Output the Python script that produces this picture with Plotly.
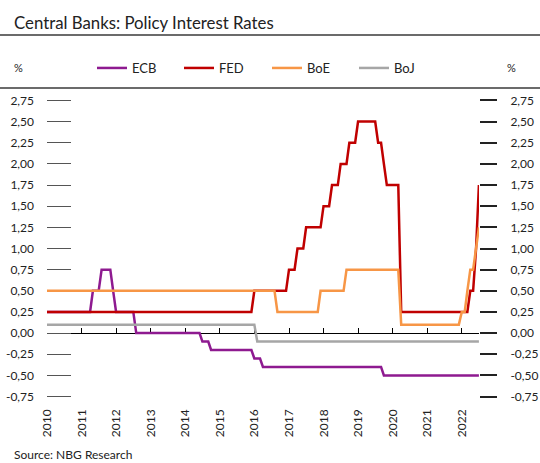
import pandas as pd
import plotly.graph_objects as go

# Month-end observations, Dec 2009 .. Jun 2022 (151 months)
months = pd.date_range("2010-01-01", periods=151, freq="MS") - pd.Timedelta(days=1)

ecb = ([0.25] * 16 + [0.5] * 3 + [0.75] * 4 + [0.5] * 1 + [0.25] * 7 + [0.0] * 23
       + [-0.1] * 3 + [-0.2] * 15 + [-0.3] * 3 + [-0.4] * 42 + [-0.5] * 34)
fed = ([0.25] * 72 + [0.5] * 12 + [0.75] * 3 + [1.0] * 3 + [1.25] * 6 + [1.5] * 3
       + [1.75] * 3 + [2.0] * 3 + [2.25] * 3 + [2.5] * 7 + [2.25] * 2 + [2.0] * 1
       + [1.75] * 5 + [0.25] * 24 + [0.5] * 2 + [1.0] * 1 + [1.75] * 1)
boe = ([0.5] * 80 + [0.25] * 15 + [0.5] * 9 + [0.75] * 19 + [0.1] * 21 + [0.25] * 2
       + [0.5] * 1 + [0.75] * 2 + [1.0] * 1 + [1.25] * 1)
boj = [0.1] * 73 + [-0.1] * 78

series_names = ["ECB", "FED", "BoE", "BoJ"]
series_values = [ecb, fed, boe, boj]
series_colors = ["#8E1A90", "#C00000", "#F79646", "#A6A6A6"]

year_ticks = pd.date_range("2010-01-01", "2022-01-01", freq="YS")
year_labels = [str(d.year) for d in year_ticks]
y_ticks = [-0.75, -0.5, -0.25, 0, 0.25, 0.5, 0.75, 1.0, 1.25, 1.5, 1.75, 2.0, 2.25, 2.5, 2.75]
y_labels = ["-0,75", "-0,50", "-0,25", "0,00", "0,25", "0,50", "0,75", "1,00", "1,25",
            "1,50", "1,75", "2,00", "2,25", "2,50", "2,75"]

X_RANGE = ["2009-12-31", "2022-07-01"]
Y_RANGE = [-0.85, 2.85]
FONT = "Lato"

legend_ids = ["legend", "legend2", "legend3", "legend4"]
legend_x_px = [92, 179, 267, 354]

fig = go.Figure()
for name, vals, color, lid in zip(series_names, series_values, series_colors, legend_ids):
    fig.add_trace(go.Scatter(x=months, y=vals, name=name, mode="lines", legend=lid,
                             line=dict(color=color, width=2.5)))
# helper trace so the secondary (zero-line / right) axes are drawn
fig.add_trace(go.Scatter(x=[months[0]], y=[None], xaxis="x2", yaxis="y2",
                         showlegend=False, hoverinfo="skip"))

L, R, T, B = 47.3, 61.4, 92, 58
W, H = 540, 463
pw, ph = W - L - R, H - T - B


def px_x(x):
    return (x - L) / pw


def px_y(y):
    return (H - B - y) / ph


legend_cfg = {}
for lid, lx in zip(legend_ids, legend_x_px):
    legend_cfg[lid] = dict(orientation="h", xref="container", yref="container",
                           x=lx / W, y=(H - 68) / H, xanchor="left", yanchor="middle",
                           font=dict(size=13, color="#222222"),
                           bgcolor="rgba(0,0,0,0)", borderwidth=0)

fig.update_layout(
    width=W, height=H,
    margin=dict(l=L, r=R, t=T, b=B, pad=0, autoexpand=False),
    paper_bgcolor="white", plot_bgcolor="white",
    font=dict(family=FONT, size=12, color="#222222"),
    showlegend=True,
    **legend_cfg,
    xaxis=dict(type="date", range=X_RANGE, tickvals=year_ticks, ticktext=year_labels,
               tickangle=-90, ticks="", showline=False, showgrid=False, zeroline=False,
               tickfont=dict(size=12, color="#222222"), ticklabelstandoff=1),
    xaxis2=dict(type="date", range=X_RANGE, overlaying="x", anchor="free",
                position=(0 - Y_RANGE[0]) / (Y_RANGE[1] - Y_RANGE[0]),
                tickvals=year_ticks, showticklabels=False, ticks="inside", ticklen=5,
                tickcolor="#000000", tickwidth=1.2, showline=True, linecolor="#000000",
                linewidth=1.3, showgrid=False, zeroline=False, layer="below traces"),
    yaxis=dict(range=Y_RANGE, tickvals=y_ticks, ticktext=y_labels, ticks="inside",
               ticklen=24, tickcolor="#555555", tickwidth=1.3, showline=False,
               showgrid=False, zeroline=False, layer="below traces",
               tickfont=dict(size=12, color="#222222"), ticklabelstandoff=12),
    yaxis2=dict(range=Y_RANGE, overlaying="y", side="right", anchor="free", position=1,
                tickvals=y_ticks, ticktext=y_labels, ticks="outside", ticklen=17,
                tickcolor="#222222", tickwidth=1.5, showline=False, showgrid=False,
                zeroline=False, layer="below traces",
                tickfont=dict(size=12, color="#222222"), ticklabelstandoff=11),
)

# header rules
for yy in (35, 88):
    fig.add_shape(type="line", xref="paper", yref="paper", x0=px_x(-5), x1=px_x(W + 5),
                  y0=px_y(yy), y1=px_y(yy), line=dict(color="#3a3a3a", width=1.5))

fig.add_annotation(text="Central Banks: Policy Interest Rates", xref="paper", yref="paper",
                   x=px_x(12), y=px_y(22), xanchor="left", yanchor="middle",
                   showarrow=False, font=dict(size=16.8, color="#222222", family=FONT))
fig.add_annotation(text="%", xref="paper", yref="paper", x=px_x(19), y=px_y(68),
                   xanchor="center", yanchor="middle", showarrow=False,
                   font=dict(size=11, color="#222222"))
fig.add_annotation(text="%", xref="paper", yref="paper", x=px_x(511), y=px_y(68),
                   xanchor="center", yanchor="middle", showarrow=False,
                   font=dict(size=11, color="#222222"))
fig.add_annotation(text="Source: NBG Research", xref="paper", yref="paper",
                   x=px_x(12), y=px_y(445), xanchor="left", yanchor="top",
                   showarrow=False, font=dict(size=12, color="#222222"))

fig.write_html("out.html")
